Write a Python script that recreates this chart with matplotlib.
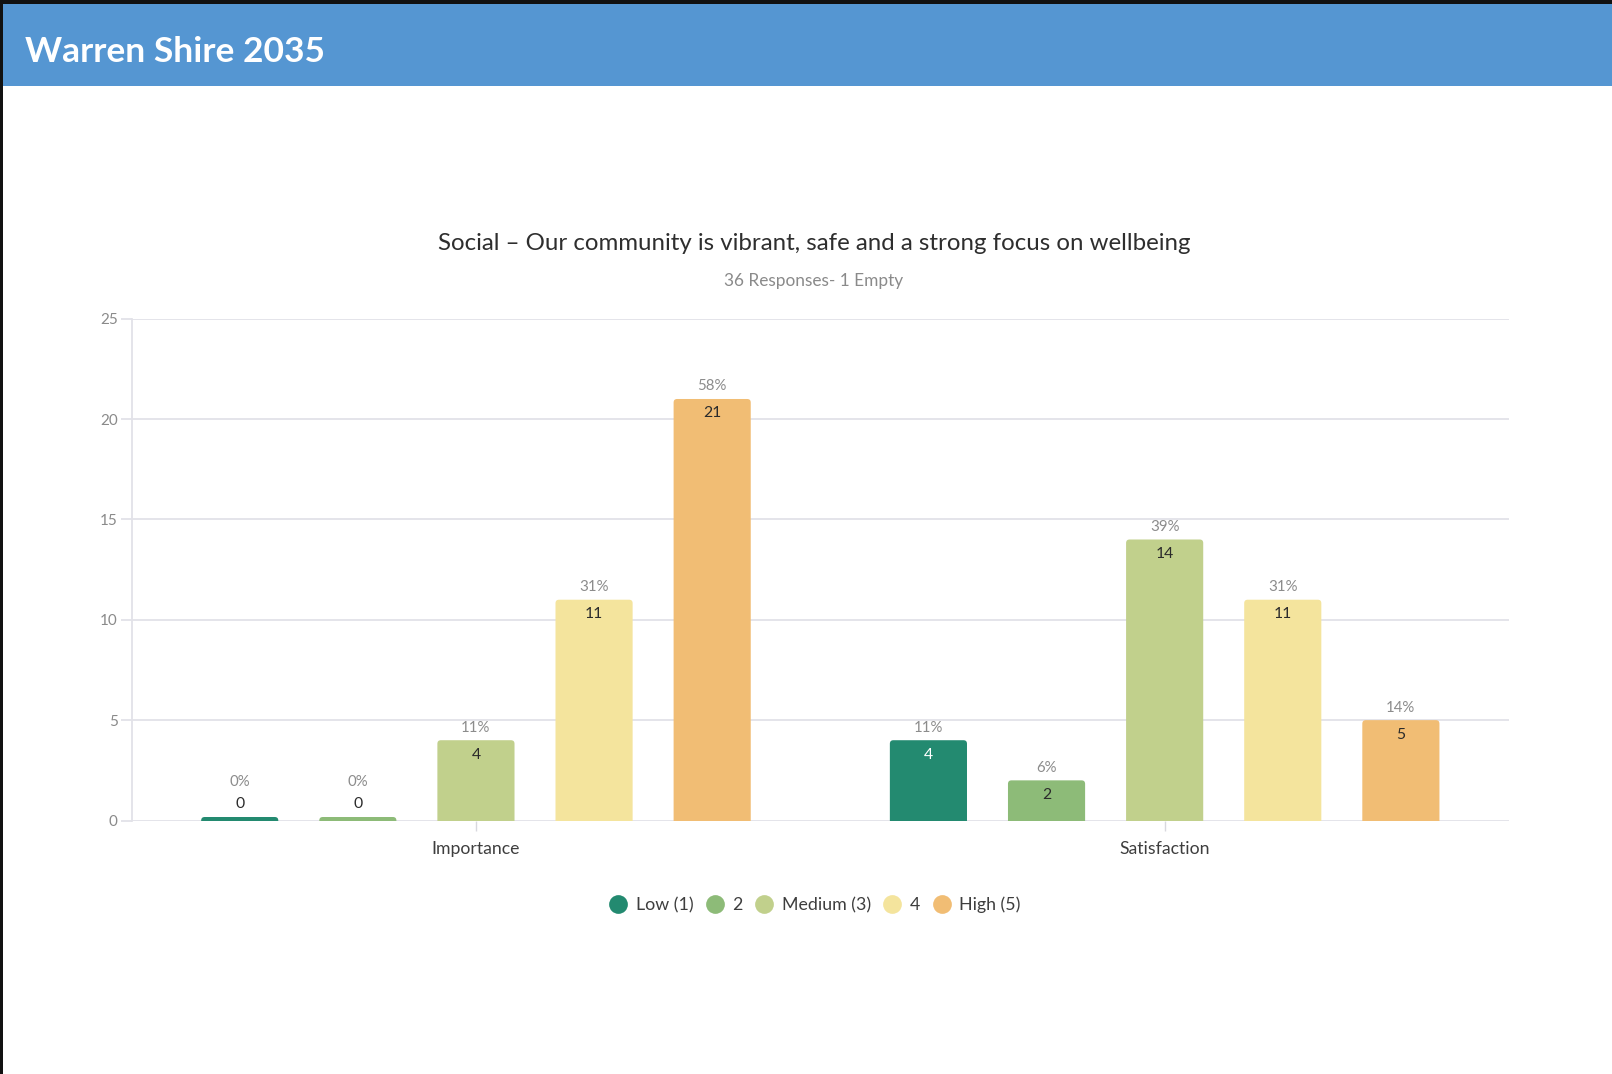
import matplotlib
matplotlib.use("Agg")
import matplotlib.pyplot as plt
from matplotlib.patches import FancyBboxPatch, Rectangle
from matplotlib.lines import Line2D

# ---- data ----
categories = ["Importance", "Satisfaction"]
levels = ["Low (1)", "2", "Medium (3)", "4", "High (5)"]
importance = [0, 0, 4, 11, 21]
satisfaction = [4, 2, 14, 11, 5]
importance_pct = ["0%", "0%", "11%", "31%", "58%"]
satisfaction_pct = ["11%", "6%", "39%", "31%", "14%"]
yticks = [0, 5, 10, 15, 20, 25]

colors = ["#238a70", "#8dbb78", "#c1d08c", "#f4e49d", "#f1bd74"]
count_colors = ["#ffffff", "#2b2b2b", "#2b2b2b", "#2b2b2b", "#2b2b2b"]

FONT = ["Lato", "DejaVu Sans"]
plt.rcParams["font.family"] = FONT

W, H = 1612, 1074
fig = plt.figure(figsize=(W / 100, H / 100), dpi=100)
fig.patch.set_facecolor("white")

# header band and frame
fig.patches.append(Rectangle((0, 1 - 86 / H), 1, 82 / H, transform=fig.transFigure,
                             facecolor="#5596d2", edgecolor="none", zorder=0))
fig.patches.append(Rectangle((0, 1 - 4 / H), 1, 4 / H, transform=fig.transFigure,
                             facecolor="#111111", edgecolor="none", zorder=1))
fig.patches.append(Rectangle((0, 0), 3 / W, 1, transform=fig.transFigure,
                             facecolor="#111111", edgecolor="none", zorder=1))
fig.text(25 / W, 1 - 52 / H, "Warren Shire 2035", color="white", fontsize=25.5,
         fontweight="bold", va="center", ha="left")

# chart titles
fig.text(814 / W, 1 - 243 / H, "Social \u2013 Our community is vibrant, safe and a strong focus on wellbeing",
         color="#2e2e2e", fontsize=17.3, ha="center", va="center")
fig.text(814 / W, 1 - 281 / H, "36 Responses- 1 Empty", color="#8a8a8a",
         fontsize=12.4, ha="center", va="center")

left, right = 131.6 / W, 1509 / W
bottom, top = 1 - 820.5 / H, 1 - 318.7 / H
ax = fig.add_axes([left, bottom, right - left, top - bottom])
ax.set_xlim(-0.5, 1.5)
ax.set_ylim(0, 25)

px_x = (right - left) * W / 2.0          # pixels per x unit
px_y = (top - bottom) * H / 25.0         # pixels per y unit
radius_px = 3.5
rx = radius_px / px_x
aspect = px_x / px_y

spacing = 0.1715
width = 0.112
min_h = 3.5 / px_y

series = [importance, satisfaction]
pcts = [importance_pct, satisfaction_pct]
for ci, (vals, pl) in enumerate(zip(series, pcts)):
    for i, v in enumerate(vals):
        x0 = ci + (i - 2) * spacing - width / 2
        h = max(v, min_h)
        ext = 3 * rx * aspect
        patch = FancyBboxPatch((x0, -ext), width, h + ext,
                               boxstyle=f"round,pad=0,rounding_size={rx}",
                               mutation_aspect=aspect,
                               facecolor=colors[i], edgecolor="none", zorder=3,
                               clip_on=True)
        ax.add_patch(patch)
        xc = ci + (i - 2) * spacing
        if v > 0:
            ax.annotate(str(v), (xc, v), xytext=(0, -14.5), textcoords="offset pixels",
                        ha="center", va="center", fontsize=11.3, color=count_colors[i], zorder=4)
            ax.annotate(pl[i], (xc, v), xytext=(0, 12.5), textcoords="offset pixels",
                        ha="center", va="center", fontsize=10.8, color="#8c8c8c", zorder=4)
        else:
            ax.annotate(str(v), (xc, h), xytext=(0, 13), textcoords="offset pixels",
                        ha="center", va="center", fontsize=11.3, color="#2b2b2b", zorder=4)
            ax.annotate(pl[i], (xc, h), xytext=(0, 35), textcoords="offset pixels",
                        ha="center", va="center", fontsize=10.8, color="#8c8c8c", zorder=4)

# axes styling
for s in ["top", "right", "bottom"]:
    ax.spines[s].set_visible(False)
ax.spines["left"].set_color("#e2e2e8")
ax.spines["left"].set_linewidth(1.3)
ax.set_yticks(yticks)
ax.set_yticklabels([str(t) for t in yticks])
ax.tick_params(axis="y", length=8, color="#e2e2e8", labelcolor="#8a8a8a",
               labelsize=11, pad=2, width=1.3)
ax.grid(axis="y", color="#e2e2e8", linewidth=1.3, zorder=0)
ax.set_axisbelow(True)
ax.set_xticks([0, 1])
ax.set_xticklabels(categories)
ax.tick_params(axis="x", length=7, color="#d8d8de", labelcolor="#3e3e3e",
               labelsize=12.7, pad=8, width=1.0)

# legend
handles = [Line2D([], [], marker="o", linestyle="none", markersize=13.5,
                  markerfacecolor=c, markeredgecolor="none") for c in colors]
fig.legend(handles, levels, loc="center", bbox_to_anchor=(814 / W, 1 - 905 / H),
           ncol=5, frameon=False, fontsize=12.8, handletextpad=0.4,
           columnspacing=0.6, labelcolor="#3e3e3e", handlelength=1.2)

fig.savefig("out.png", dpi=100, facecolor="white")
